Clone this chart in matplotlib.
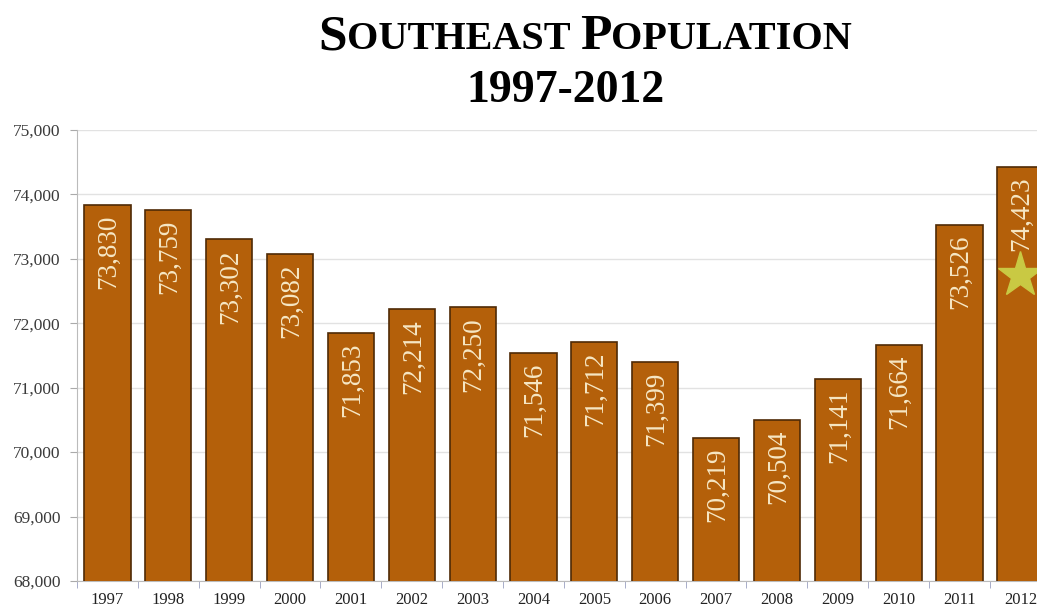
import numpy as np
import matplotlib.pyplot as plt

years = ['1997', '1998', '1999', '2000', '2001', '2002', '2003', '2004',
         '2005', '2006', '2007', '2008', '2009', '2010', '2011', '2012']
population = [73830, 73759, 73302, 73082, 71853, 72214, 72250, 71546,
              71712, 71399, 70219, 70504, 71141, 71664, 73526, 74423]
yticks = [68000, 69000, 70000, 71000, 72000, 73000, 74000, 75000]
star_year = '2012'
star_value = 72750

bar_color = '#B4600A'
edge_color = '#4f2a06'
label_color = '#F6E7C4'
serif = ['Liberation Serif', 'DejaVu Serif']

fig = plt.figure(figsize=(10.37, 6.12), dpi=100)
ax = fig.add_axes([0.0743, 0.0507, 0.939, 0.7369])

x = np.arange(len(years))
bars = ax.bar(x, population, width=0.76, color=bar_color,
              edgecolor=edge_color, linewidth=1.2, zorder=3)

for xi, val in zip(x, population):
    ax.annotate(f'{val:,}', (xi, val), xytext=(1, -7), textcoords='offset points',
                rotation=90, ha='center', va='top', color=label_color,
                fontsize=19.5, family=serif, zorder=5)

ax.plot(years.index(star_year), star_value, marker='*', markersize=34,
        color='#C9C943', markeredgecolor='#C9C943', zorder=6)

ax.set_ylim(68000, 75000)
ax.set_xlim(-0.5, len(years) - 0.5)
ax.set_yticks(yticks)
ax.set_yticklabels([f'{v:,}' for v in yticks], family=serif, fontsize=12.5,
                   color='#3a3a3a')
ax.set_xticks(x)
ax.set_xticklabels(years, family=serif, fontsize=12, color='#222222')
ax.tick_params(axis='x', length=0, pad=8)
ax.tick_params(axis='y', length=5, color='#aaaaaa', pad=7)
ax.set_xticks(np.arange(len(years) + 1) - 0.5, minor=True)
ax.tick_params(axis='x', which='minor', length=5, color='#9aa0c0')

ax.grid(axis='y', color='#e2e2e2', linewidth=1, zorder=0)
for side in ['top', 'right']:
    ax.spines[side].set_visible(False)
ax.spines['left'].set_color('#bbbbbb')
ax.spines['bottom'].set_color('#bbbbbb')

# title in small caps, built piece by piece
fig.canvas.draw()
renderer = fig.canvas.get_renderer()
pieces = [('S', 37), ('OUTHEAST ', 29), ('P', 37), ('OPULATION', 29)]
texts = []
for s, size in pieces:
    t = fig.text(0, 0, s, fontsize=size, fontweight='bold', family=serif,
                 va='baseline', ha='left')
    texts.append(t)
widths = [t.get_window_extent(renderer).width for t in texts]
total = sum(widths)
start = 585 - total / 2
base_y = 1 - 49 / 612
for t, w in zip(texts, widths):
    t.set_position((start / 1037, base_y))
    start += w

fig.text(566 / 1037, 1 - 91 / 612, '1997-2012', fontsize=33, fontweight='bold',
         family=serif, ha='center', va='center')

fig.savefig('out.png', dpi=100)
